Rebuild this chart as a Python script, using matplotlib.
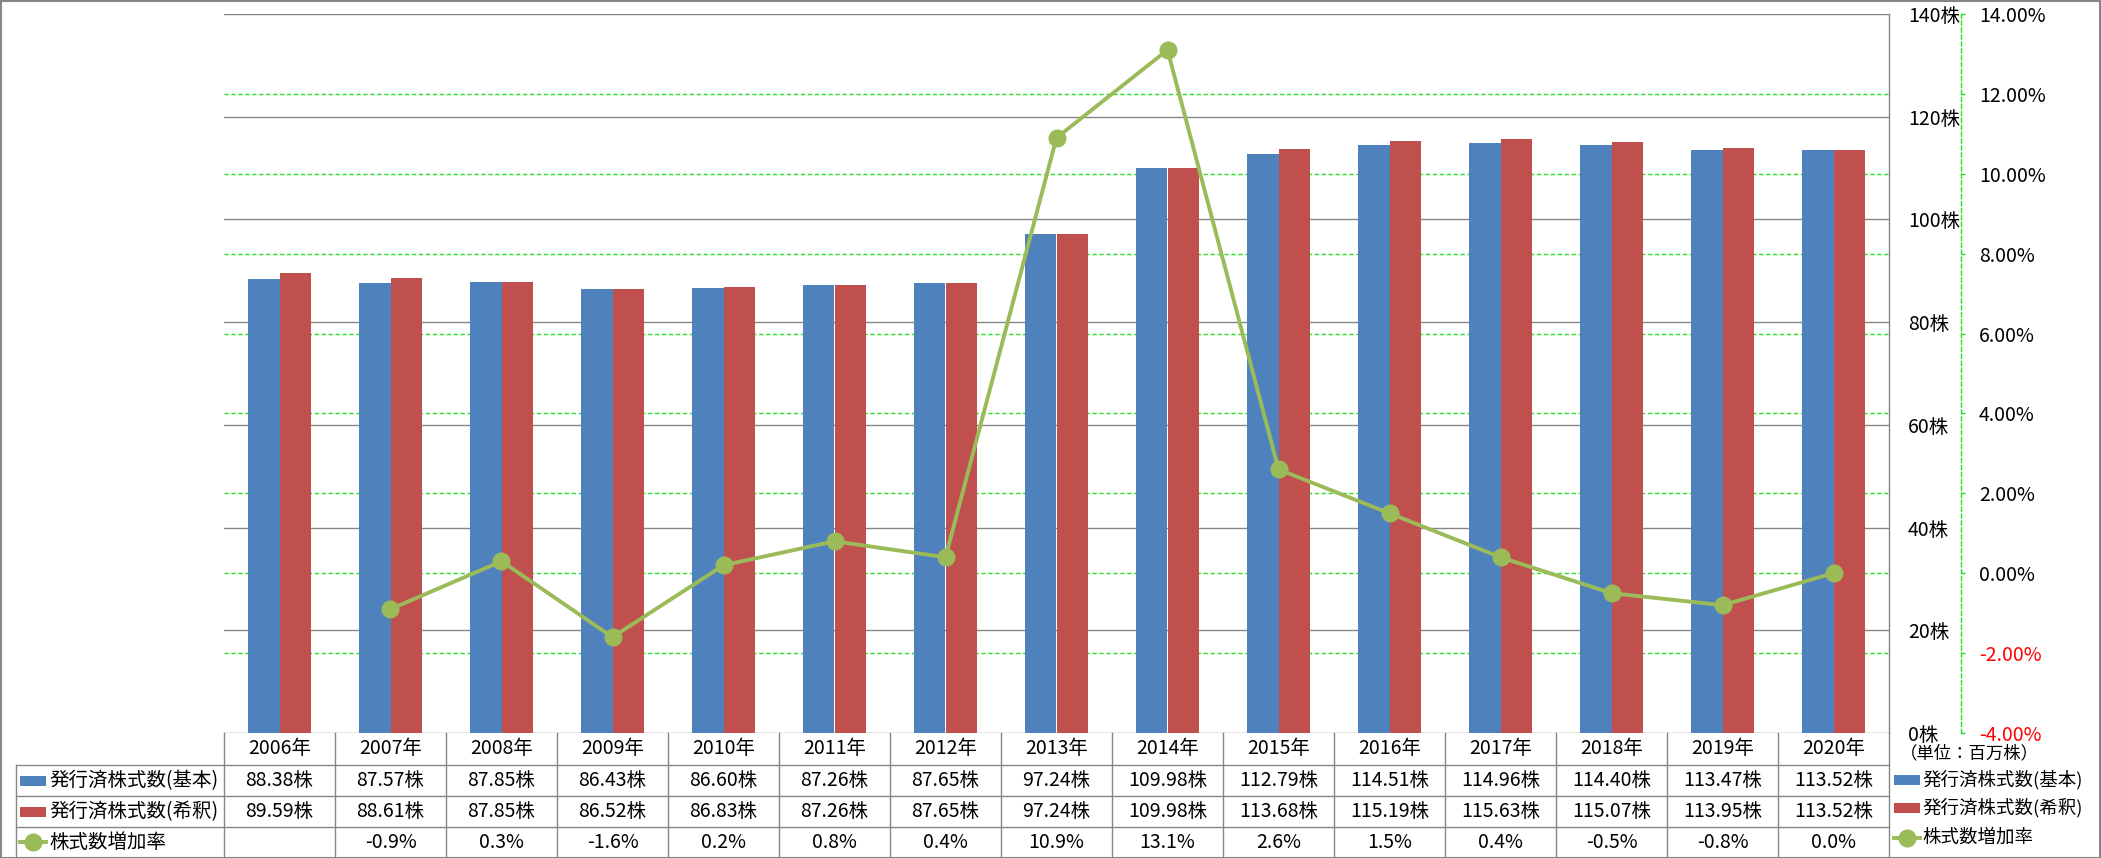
import matplotlib
matplotlib.use("Agg")

import matplotlib.pyplot as plt
import matplotlib.transforms as mtransforms
from matplotlib.lines import Line2D
from matplotlib.patches import Rectangle
import numpy as np

plt.rcParams["font.family"] = ["Noto Sans CJK JP", "DejaVu Sans"]

years = ["2006年", "2007年", "2008年", "2009年", "2010年", "2011年", "2012年", "2013年",
         "2014年", "2015年", "2016年", "2017年", "2018年", "2019年", "2020年"]
shares_basic = [88.38, 87.57, 87.85, 86.43, 86.60, 87.26, 87.65, 97.24,
                109.98, 112.79, 114.51, 114.96, 114.40, 113.47, 113.52]
shares_diluted = [89.59, 88.61, 87.85, 86.52, 86.83, 87.26, 87.65, 97.24,
                  109.98, 113.68, 115.19, 115.63, 115.07, 113.95, 113.52]
growth_rate = [np.nan, -0.9, 0.3, -1.6, 0.2, 0.8, 0.4, 10.9,
               13.1, 2.6, 1.5, 0.4, -0.5, -0.8, 0.0]
series_names = ["発行済株式数(基本)", "発行済株式数(希釈)", "株式数増加率"]
share_ticks = [0, 20, 40, 60, 80, 100, 120, 140]
rate_ticks = [-4, -2, 0, 2, 4, 6, 8, 10, 12, 14]
unit_label = "（単位：百万株）"

BLUE = "#4F81BD"
RED = "#C0504D"
GREEN = "#9BBB59"
GRID_GREEN = "#22E022"
GRAY = "#868686"
FS = 14

W, H = 2101, 858
fig = plt.figure(figsize=(W / 100, H / 100), dpi=100)


def fx(px):
    return px / W


def fy(py):
    return (H - py) / H


plot_l, plot_r, plot_t, plot_b = 224, 1889, 14, 733
ax = fig.add_axes([fx(plot_l), fy(plot_b), (plot_r - plot_l) / W, (plot_b - plot_t) / H])
ax2 = ax.twinx()

x = np.arange(len(years))
bar_w = 0.284

# gridlines (behind bars)
for t in share_ticks:
    ax.axhline(t, color=GRAY, lw=1, zorder=0.5)
rate_trans = mtransforms.blended_transform_factory(ax.transAxes, ax2.transData)
for r in rate_ticks[1:-1]:
    ax.plot([0, 1], [r, r], transform=rate_trans, color=GRID_GREEN, lw=1,
            linestyle=(0, (3, 2)), zorder=0.6)

ax.bar(x - bar_w / 2, shares_basic, width=bar_w, color=BLUE, zorder=2)
ax.bar(x + bar_w / 2, shares_diluted, width=bar_w, color=RED, zorder=2)
ax.set_xlim(-0.5, len(years) - 0.5)
ax.set_ylim(share_ticks[0], share_ticks[-1])
ax.set_yticks(share_ticks)
ax.set_yticklabels([f"{t}株" for t in share_ticks])
ax.set_xticks([])
ax.tick_params(axis="y", left=False, labelleft=False, right=False, labelright=True,
               length=0, pad=13.5, labelsize=FS)
for side in ["top", "left", "bottom"]:
    ax.spines[side].set_visible(False)
ax.spines["right"].set_color(GRAY)
ax.spines["right"].set_linewidth(1)

ax2.plot(x, growth_rate, color=GREEN, lw=2.8, marker="o", markersize=12, zorder=3)
ax2.set_ylim(rate_ticks[0], rate_ticks[-1])
ax2.set_yticks(rate_ticks)
ax2.set_yticklabels([f"{r:.2f}%" for r in rate_ticks])
for side in ["top", "left", "bottom"]:
    ax2.spines[side].set_visible(False)
ax2.spines["right"].set_position(("outward", 72 * 0.72))
ax2.spines["right"].set_color(GRID_GREEN)
ax2.spines["right"].set_linestyle((0, (3, 2)))
ax2.spines["right"].set_linewidth(1)
ax2.tick_params(axis="y", direction="out", length=3, width=1, color=GRID_GREEN,
                pad=10, labelsize=FS)
for tick, r in zip(ax2.yaxis.get_major_ticks(), rate_ticks):
    if r < 0:
        tick.label2.set_color("#FF0000")
ax2.patch.set_visible(False)

# data table below the plot
rows_px = [733, 765, 796, 827, 857]
tab_trans = mtransforms.blended_transform_factory(ax.transData, fig.transFigure)
for i in range(len(years) + 1):
    fig.add_artist(Line2D([i - 0.5, i - 0.5], [fy(rows_px[0]), fy(rows_px[-1])],
                          transform=tab_trans, color=GRAY, lw=1))
for yp in rows_px[1:-1]:
    fig.add_artist(Line2D([fx(16), fx(plot_r)], [fy(yp), fy(yp)],
                          transform=fig.transFigure, color=GRAY, lw=1))
fig.add_artist(Line2D([fx(16), fx(16)], [fy(rows_px[1]), fy(rows_px[-1])],
                      transform=fig.transFigure, color=GRAY, lw=1))

centers = [(rows_px[k] + rows_px[k + 1]) / 2 for k in range(4)]
for i in range(len(years)):
    fig.text(i, fy(centers[0]), years[i], transform=tab_trans, ha="center", va="center", fontsize=FS)
    fig.text(i, fy(centers[1]), f"{shares_basic[i]:.2f}株", transform=tab_trans,
             ha="center", va="center", fontsize=FS)
    fig.text(i, fy(centers[2]), f"{shares_diluted[i]:.2f}株", transform=tab_trans,
             ha="center", va="center", fontsize=FS)
    if not np.isnan(growth_rate[i]):
        fig.text(i, fy(centers[3]), f"{growth_rate[i]:.1f}%", transform=tab_trans,
                 ha="center", va="center", fontsize=FS)


def legend_key(px_left, py_center, kind, color):
    if kind == "bar":
        fig.add_artist(Rectangle((fx(px_left), fy(py_center + 5)), 26 / W, 10 / H,
                                 transform=fig.transFigure, color=color, lw=0))
    else:
        fig.add_artist(Line2D([fx(px_left), fx(px_left + 26)], [fy(py_center)] * 2,
                              transform=fig.transFigure, color=color, lw=2.8))
        fig.add_artist(Line2D([fx(px_left + 13)], [fy(py_center)], transform=fig.transFigure,
                              color=color, marker="o", markersize=12, lw=0))


kinds = [("bar", BLUE), ("bar", RED), ("line", GREEN)]
for k in range(3):
    legend_key(20, centers[k + 1], *kinds[k])
    fig.text(fx(49), fy(centers[k + 1]), series_names[k], ha="left", va="center", fontsize=FS)

right_rows = [780, 808, 838]
for k in range(3):
    legend_key(1894, right_rows[k], *kinds[k])
    fig.text(fx(1922), fy(right_rows[k]), series_names[k], ha="left", va="center", fontsize=13.3)
fig.text(fx(1900), fy(753), unit_label, ha="left", va="center", fontsize=12.5)

fig.add_artist(Rectangle((0.5 / W, 0.5 / H), 1 - 1.5 / W, 1 - 1.5 / H, transform=fig.transFigure,
                         fill=False, edgecolor=GRAY, lw=1.5))

fig.savefig("out.png", dpi=100)
